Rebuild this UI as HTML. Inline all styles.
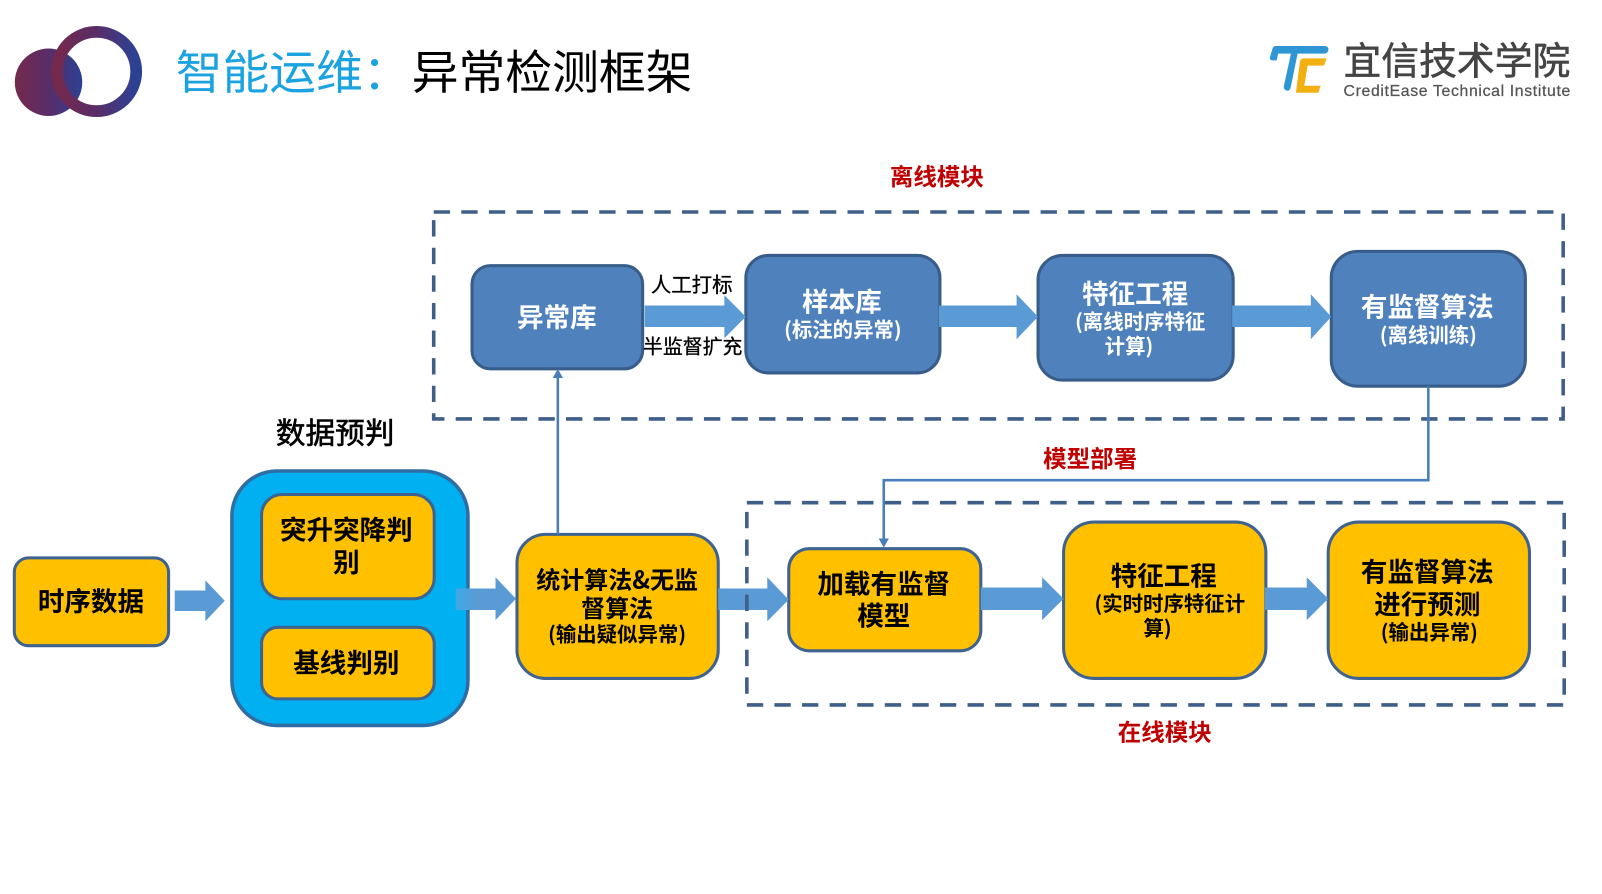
<!DOCTYPE html>
<html lang="zh"><head><meta charset="utf-8"><title>智能运维：异常检测框架</title>
<style>
html,body{margin:0;padding:0;background:#fff;width:1602px;height:894px;overflow:hidden}
svg{display:block}
text{font-family:"Liberation Sans","Noto Sans CJK SC",sans-serif;text-anchor:middle}
.cjk{font-family:"Noto Sans CJK SC","Liberation Sans",sans-serif}
.w{fill:#fff;font-weight:700}
.k{fill:#000;font-weight:700}
.r{fill:#c00000;font-weight:700;font-size:23px}
.b{fill:#4f81bd;stroke:#385d8a;stroke-width:3}
.y{fill:#ffc000;stroke:#3f6390;stroke-width:3}
.a{fill:#5b9bd5}
.d{fill:none;stroke:#3f5f88;stroke-width:3.5;stroke-dasharray:16 11}
.c{fill:none;stroke:#4a7ebb;stroke-width:2.5}
</style></head><body>
<svg width="1602" height="894" viewBox="0 0 1568 875" xmlns="http://www.w3.org/2000/svg">
<defs>
<linearGradient id="g1" x1="0" x2="1" y1="0" y2="0"><stop offset="0" stop-color="#75294c"/><stop offset="0.5" stop-color="#592d68"/><stop offset="1" stop-color="#2c4194"/></linearGradient>
<linearGradient id="g2" x1="0" x2="1" y1="0" y2="0"><stop offset="0" stop-color="#3fa9e6"/><stop offset="0.35" stop-color="#5b9bd5"/><stop offset="1" stop-color="#5b9bd5"/></linearGradient>
</defs>
<rect width="1568" height="875" fill="#fff"/>

<!-- logo -->
<circle cx="47.5" cy="80.5" r="33" fill="url(#g1)"/>
<circle cx="94.5" cy="70" r="38.8" fill="none" stroke="url(#g1)" stroke-width="11.5"/>

<!-- title -->
<text x="172" y="87" class="cjk" style="text-anchor:start;font-size:45.8px" fill="#1aa3e0">智能运维：</text>
<text x="403" y="87" class="cjk" style="text-anchor:start;font-size:45.8px" fill="#000">异常检测框架</text>

<!-- brand -->
<g transform="translate(1233.2,34.26) scale(0.3263)">
<path fill="#2f96d6" d="M48 33H195Q208 35 205 47Q202 56 192 56H113L92 158Q88 170 78 166Q70 162 72 152L93 56H55L50 76H38Q28 76 30 66L38 40Q40 33 48 33Z"/>
<path fill="#f2b011" d="M130 70H200L192 92H143L133 152H182L175 173H108L120 80Q122 70 130 70Z"/>
</g>
<text x="1315" y="73" class="cjk" style="text-anchor:start;font-size:37px;stroke:#444;stroke-width:.6" fill="#444">宜信技术学院</text>
<text x="1315" y="94" style="text-anchor:start;font-size:15.5px;stroke:#555;stroke-width:.25" fill="#555" textLength="222">CreditEase Technical Institute</text>

<text x="917" y="181" class="r cjk">离线模块</text>
<text x="1140" y="725" class="r cjk">在线模块</text>
<text x="1067" y="457" class="r cjk">模型部署</text>
<text x="328" y="434" class="k cjk" style="font-size:29px;font-weight:400;stroke:#000;stroke-width:.6">数据预判</text>

<!-- yellow flow -->
<rect x="14" y="546" width="151" height="86" rx="14" class="y"/>
<text x="89" y="598" class="k cjk" style="font-size:26px">时序数据</text>

<rect x="227" y="461" width="231" height="249" rx="44" fill="#00b0f0" stroke="#2f6ea5" stroke-width="3.5"/>
<rect x="256" y="484" width="169" height="102" rx="20" class="y"/>
<text x="339" y="528" class="k cjk" style="font-size:26px">突升突降判</text>
<text x="339" y="560" class="k cjk" style="font-size:26px">别</text>
<rect x="256" y="614" width="169" height="70" rx="16" class="y"/>
<text x="339" y="658" class="k cjk" style="font-size:26px">基线判别</text>

<rect x="506" y="523" width="197" height="141" rx="28" class="y"/>
<text x="604" y="576" class="k cjk" style="font-size:23.5px">统计算法&amp;无监</text>
<text x="604" y="604" class="k cjk" style="font-size:23.5px">督算法</text>
<text x="604" y="628" class="k cjk" style="font-size:20px">(输出疑似异常)</text>

<rect x="772" y="537" width="188" height="100" rx="20" class="y"/>
<text x="865" y="581" class="k cjk" style="font-size:26px">加载有监督</text>
<text x="865" y="612" class="k cjk" style="font-size:26px">模型</text>

<rect x="1041" y="511" width="198" height="153" rx="30" class="y"/>
<text x="1139" y="573" class="k cjk" style="font-size:26px">特征工程</text>
<text x="1145" y="598" class="k cjk" style="font-size:20px">(实时时序特征计</text>
<text x="1133" y="622" class="k cjk" style="font-size:20px">算)</text>

<rect x="1300" y="511" width="197" height="153" rx="30" class="y"/>
<text x="1397" y="569" class="k cjk" style="font-size:26px">有监督算法</text>
<text x="1397" y="601" class="k cjk" style="font-size:26px">进行预测</text>
<text x="1399" y="626" class="k cjk" style="font-size:20px">(输出异常)</text>

<!-- blue flow -->
<rect x="462" y="260" width="167" height="101" rx="18" class="b"/>
<text x="545" y="320" class="w cjk" style="font-size:26px">异常库</text>

<text x="677" y="286" class="cjk" style="font-size:20px;stroke:#000;stroke-width:.3" fill="#000">人工打标</text>
<text x="678" y="346" class="cjk" style="font-size:19.5px;stroke:#000;stroke-width:.3" fill="#000">半监督扩充</text>

<rect x="730" y="250" width="190" height="115" rx="22" class="b"/>
<text x="824" y="305" class="w cjk" style="font-size:26px">样本库</text>
<text x="825" y="330" class="w cjk" style="font-size:20px">(标注的异常)</text>

<rect x="1016" y="250" width="191" height="122" rx="24" class="b"/>
<text x="1111" y="297" class="w cjk" style="font-size:26px">特征工程</text>
<text x="1116" y="322" class="w cjk" style="font-size:20px">(离线时序特征</text>
<text x="1105" y="346" class="w cjk" style="font-size:20px">计算)</text>

<rect x="1303" y="246" width="190" height="132" rx="26" class="b"/>
<text x="1397" y="310" class="w cjk" style="font-size:26px">有监督算法</text>
<text x="1398" y="335" class="w cjk" style="font-size:20px">(离线训练)</text>

<!-- block arrows -->
<polygon class="a" points="171,578 201,578 201,568 220,588 201,608 201,598 171,598"/>
<polygon fill="url(#g2)" points="446,576 485,576 485,565 505,586 485,607 485,597 446,597"/>
<polygon class="a" points="703,576 751,576 751,565 772,587 751,608 751,597 703,597"/>
<polygon class="a" points="960,575 1020,575 1020,565 1041,586 1020,607 1020,597 960,597"/>
<polygon class="a" points="1238,575 1279,575 1279,565 1300,586 1279,607 1279,597 1238,597"/>
<polygon class="a" points="631,299 709,299 709,289 730,310 709,331 709,320 631,320"/>
<polygon class="a" points="919,299 995,299 995,288 1016,310 995,332 995,320 919,320"/>
<polygon class="a" points="1206,299 1283,299 1283,288 1303,310 1283,332 1283,320 1206,320"/>

<!-- dashed regions -->
<rect x="424.5" y="207.5" width="1105.5" height="202.5" class="d"/>
<rect x="731" y="492" width="800" height="198" class="d"/>

<!-- connectors -->
<path class="c" d="M546 523V368"/>
<polygon points="546,361 541,370 551,370" fill="#4a7ebb"/>
<path class="c" d="M1398 378V470H865V528"/>
<polygon points="865,536 860,527 870,527" fill="#4a7ebb"/>
</svg>
</body></html>
